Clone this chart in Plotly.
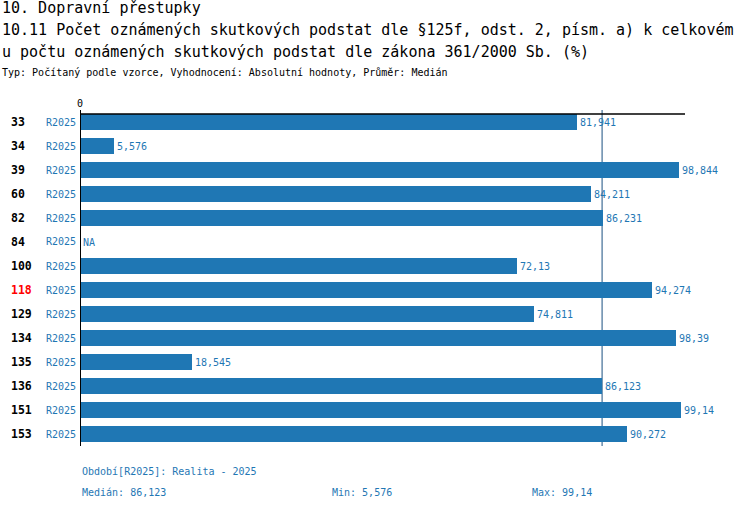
import plotly.graph_objects as go

# data
codes = ["33", "34", "39", "60", "82", "84", "100", "118", "129", "134", "135", "136", "151", "153"]
period = "R2025"
values = [81.941, 5.576, 98.844, 84.211, 86.231, None, 72.13, 94.274, 74.811, 98.39, 18.545, 86.123, 99.14, 90.272]
highlight = "118"
median_val = 86.123
min_val = 5.576
max_val = 99.14

title_lines = [
    "10. Dopravní přestupky",
    "10.11 Počet oznámených skutkových podstat dle §125f, odst. 2, písm. a) k celkovém",
    "u počtu oznámených skutkových podstat dle zákona 361/2000 Sb. (%)",
]
subtitle = "Typ: Počítaný podle vzorce, Vyhodnocení: Absolutní hodnoty, Průměr: Medián"
footer_period = "Období[R2025]: Realita - 2025"

FONT = "DejaVu Sans Mono"
BLUE = "#1f77b4"
W, H = 750, 510
ML, MR, MT, MB = 80, 65, 110, 64
XMAX = 99.8


def cz(v):
    return "NA" if v is None else str(v).replace(".", ",")


rows = list(range(len(codes)))
bar_x = [v if v is not None else 0 for v in values]

fig = go.Figure()
fig.add_trace(go.Bar(
    x=bar_x,
    y=rows,
    orientation="h",
    width=0.7,
    marker=dict(color=BLUE, line=dict(width=0)),
    hoverinfo="skip",
))


def ypx(p):
    # pixel row -> y data coordinate
    return (p - MT) / 24 - 0.5


shapes = [
    dict(type="line", xref="x", yref="y", x0=0, x1=XMAX, y0=ypx(114), y1=ypx(114),
         line=dict(color="black", width=1.5)),
    dict(type="line", xref="x", yref="y", x0=0, x1=0, y0=ypx(108), y1=ypx(451),
         line=dict(color="black", width=2)),
    dict(type="line", xref="x", yref="y", x0=median_val, x1=median_val, y0=ypx(108), y1=ypx(447),
         line=dict(color="#1a5080", width=1), layer="below"),
]

ann = []
for i, t in enumerate(title_lines):
    ann.append(dict(x=0, y=8 + 22 * i, text=t, font=dict(size=15)))
ann.append(dict(x=0, y=73, text=subtitle, font=dict(size=10)))
for i, c in enumerate(codes):
    yp = 122 + 24 * i
    col = "red" if c == highlight else "black"
    ann.append(dict(x=9, y=yp, text="<b>%s</b>" % c, font=dict(size=11.5, color=col)))
    ann.append(dict(x=78, y=yp, text=period, xanchor="right", font=dict(size=10, color=BLUE)))
ann.append(dict(x=80, y=103, text="0", xanchor="center", font=dict(size=10)))
ann.append(dict(x=80, y=471, text=footer_period, font=dict(size=10, color=BLUE)))
ann.append(dict(x=80, y=492, text="Medián: " + cz(median_val), font=dict(size=10, color=BLUE)))
ann.append(dict(x=330, y=492, text="Min: " + cz(min_val), font=dict(size=10, color=BLUE)))
ann.append(dict(x=530, y=492, text="Max: " + cz(max_val), font=dict(size=10, color=BLUE)))

annotations = []
for a in ann:
    f = dict(family=FONT, color="black")
    f.update(a.pop("font"))
    xp, yp = a.pop("x"), a.pop("y")
    d = dict(
        xref="paper", yref="paper",
        x=(xp - ML) / (W - ML - MR),
        y=1 - (yp - MT) / (H - MT - MB),
        xanchor="left", yanchor="middle",
        showarrow=False, font=f,
    )
    d.update(a)
    annotations.append(d)

# value labels just right of each bar end
for i, v in enumerate(values):
    annotations.append(dict(
        xref="x", yref="y", x=bar_x[i], y=i, text=cz(v),
        xanchor="left", yanchor="middle", xshift=1, showarrow=False,
        font=dict(family=FONT, size=10, color=BLUE),
    ))

fig.update_layout(
    width=W, height=H,
    margin=dict(l=ML, r=MR, t=MT, b=MB, pad=0),
    paper_bgcolor="white", plot_bgcolor="white",
    showlegend=False,
    bargap=0,
    xaxis=dict(range=[0, XMAX], showgrid=False, zeroline=False, showticklabels=False,
               showline=False, fixedrange=True),
    yaxis=dict(range=[len(codes) - 0.5, -0.5], showgrid=False, zeroline=False,
               showticklabels=False, showline=False, fixedrange=True),
    shapes=shapes,
    annotations=annotations,
    font=dict(family=FONT),
)

fig.write_html("out.html", config={"displayModeBar": False},
               post_script="document.body.style.margin='0';")
